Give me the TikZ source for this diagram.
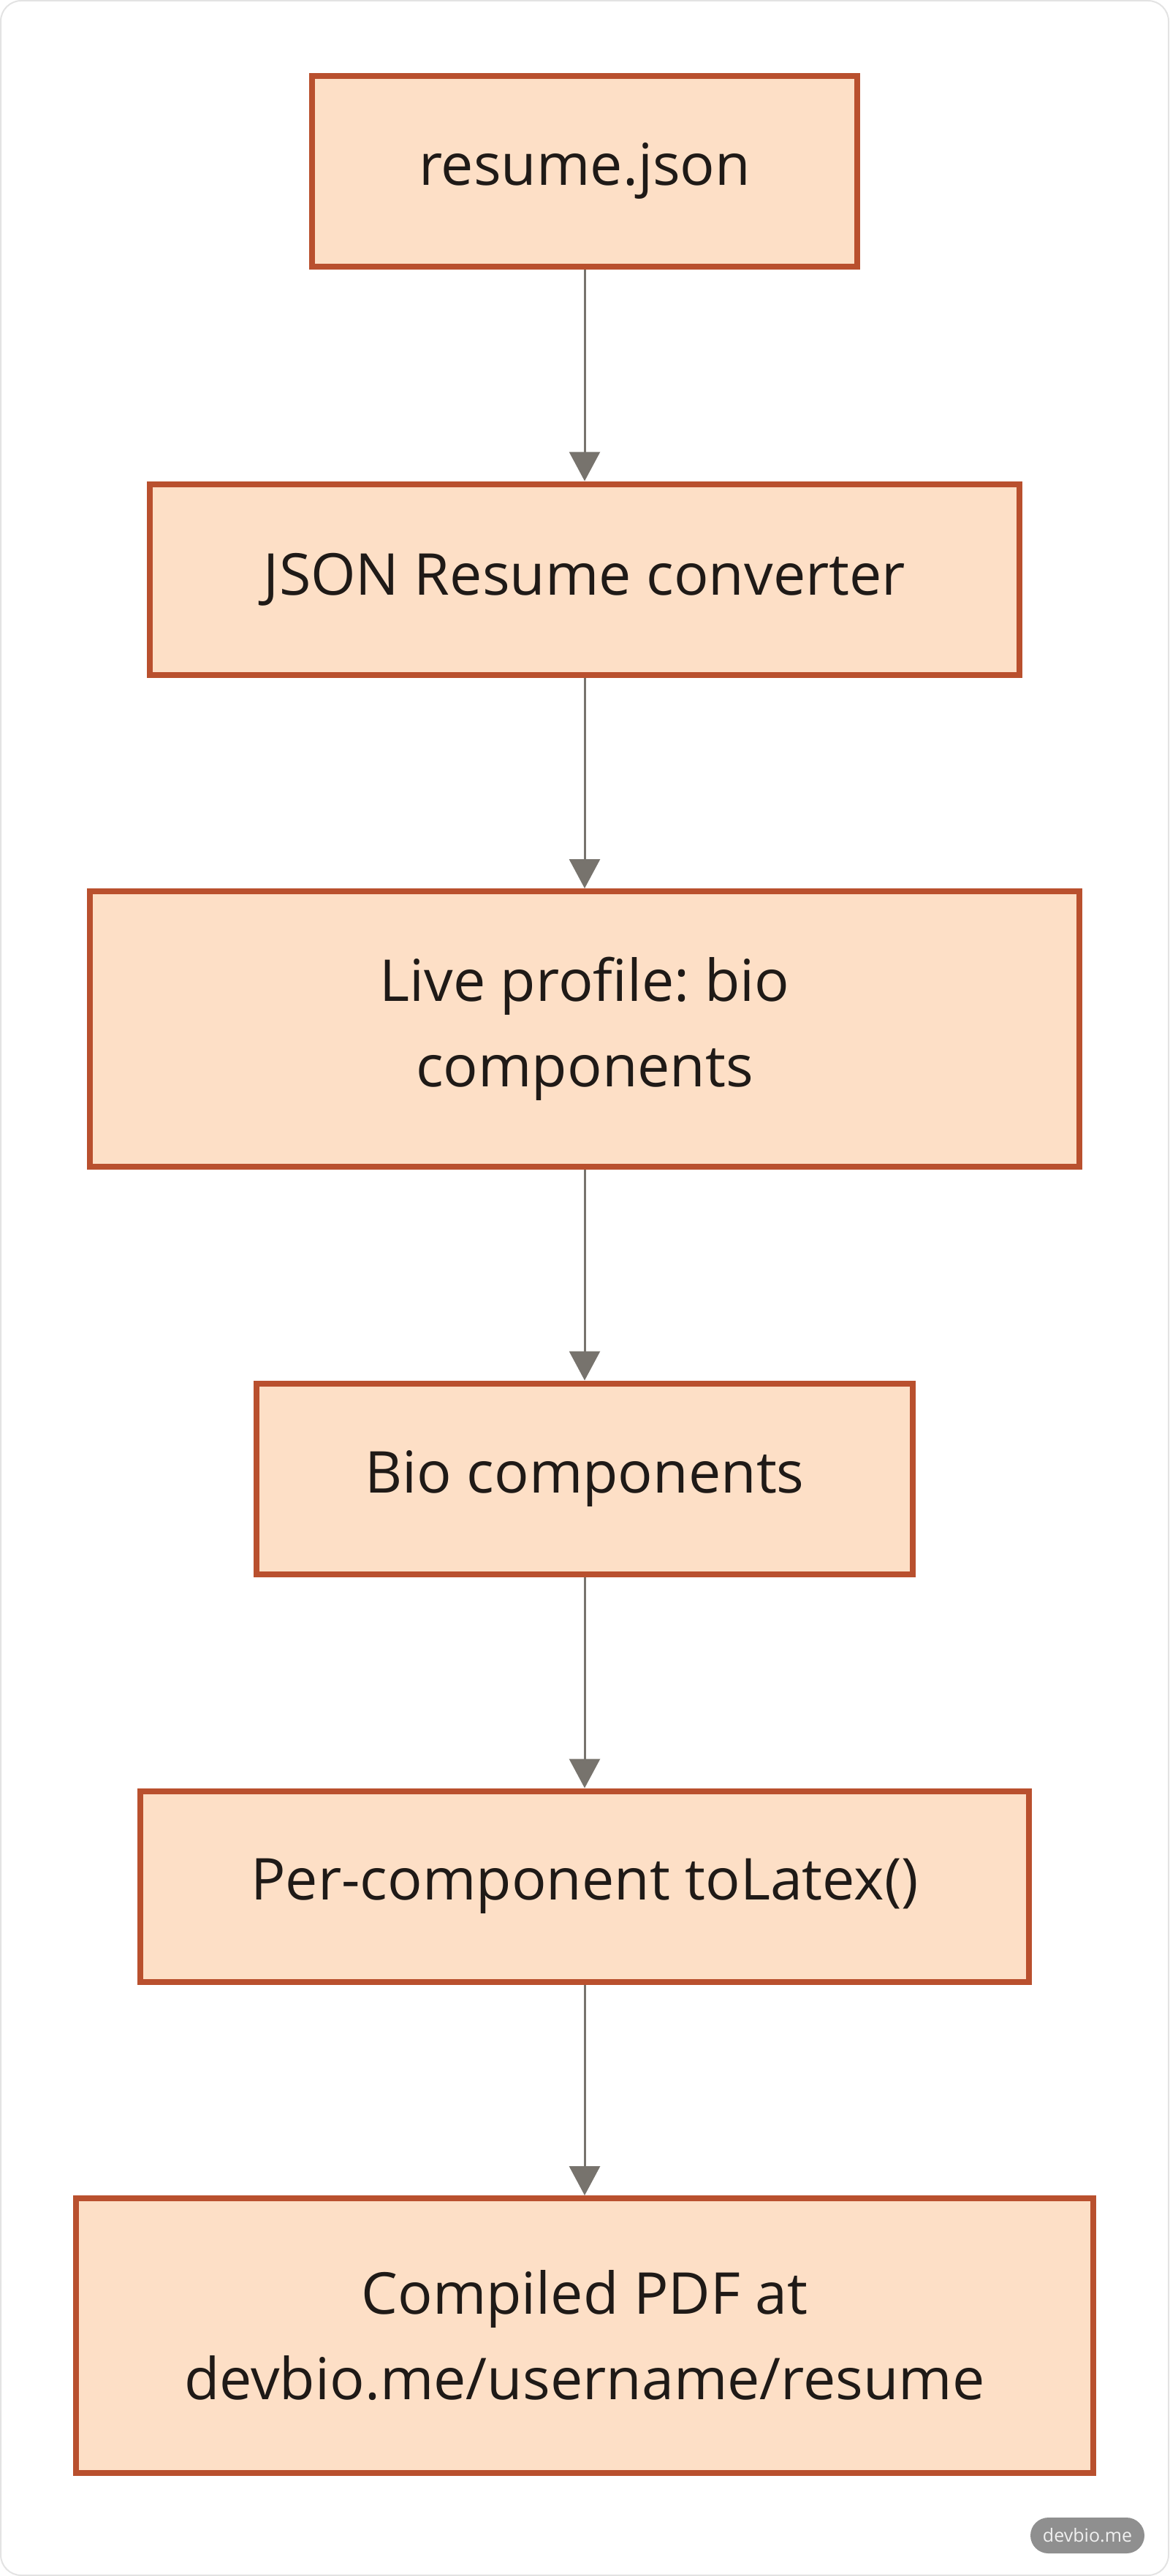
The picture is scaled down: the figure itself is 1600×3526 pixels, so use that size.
\documentclass[tikz,border=0pt]{standalone}
\usepackage{fontspec}
\setmainfont{Open Sans}
\usetikzlibrary{arrows.meta}
\definecolor{boxfill}{HTML}{FDDFC6}
\definecolor{boxline}{HTML}{B9502E}
\definecolor{arrowcol}{HTML}{77736D}
\definecolor{txtcol}{HTML}{1F1A17}
\definecolor{framecol}{HTML}{E3E3E3}
\definecolor{badgecol}{HTML}{8F8F8F}
\tikzset{
  flowbox/.style={draw=boxline, fill=boxfill, line width=4pt, inner sep=0pt,
    align=center, text=txtcol, font=\fontsize{39.5}{58.5}\selectfont},
  flowarrow/.style={draw=arrowcol, line width=1.5pt,
    -{Triangle[length=20pt,width=21pt]}, arrowcol}
}
\begin{document}
\frenchspacing
\begin{tikzpicture}[x=0.5pt,y=-0.5pt]
\useasboundingbox (0,0) rectangle (1600,3526);
\draw[framecol, line width=1pt, rounded corners=14pt] (1,1) rectangle (1599,3525);
\node[flowbox, minimum width=373pt, minimum height=130.5pt] (a) at (800,234.5) {resume.json};
\node[flowbox, minimum width=595pt, minimum height=130.5pt] (b) at (800,793) {JSON Resume converter};
\node[flowbox, minimum width=677pt, minimum height=188.5pt] (c) at (800,1408.5) {Live profile: bio\\components};
\node[flowbox, minimum width=449pt, minimum height=130.5pt] (d) at (800,2024) {Bio components};
\node[flowbox, minimum width=608pt, minimum height=130.5pt] (e) at (800,2582) {Per-component toLatex()};
\node[flowbox, minimum width=696pt, minimum height=188pt] (f) at (800,3197) {Compiled PDF at\\devbio.me/username/resume};
\draw[flowarrow] (a.south) -- (b.north);
\draw[flowarrow] (b.south) -- (c.north);
\draw[flowarrow] (c.south) -- (d.north);
\draw[flowarrow] (d.south) -- (e.north);
\draw[flowarrow] (e.south) -- (f.north);
\node[fill=badgecol, rounded corners=12.25pt, minimum width=78pt, minimum height=24.5pt, inner sep=0pt,
  text=white!94!black, font=\fontsize{12.5}{14}\selectfont] (badge) at (1488,3470.5) {devbio.me};
\end{tikzpicture}
\end{document}
